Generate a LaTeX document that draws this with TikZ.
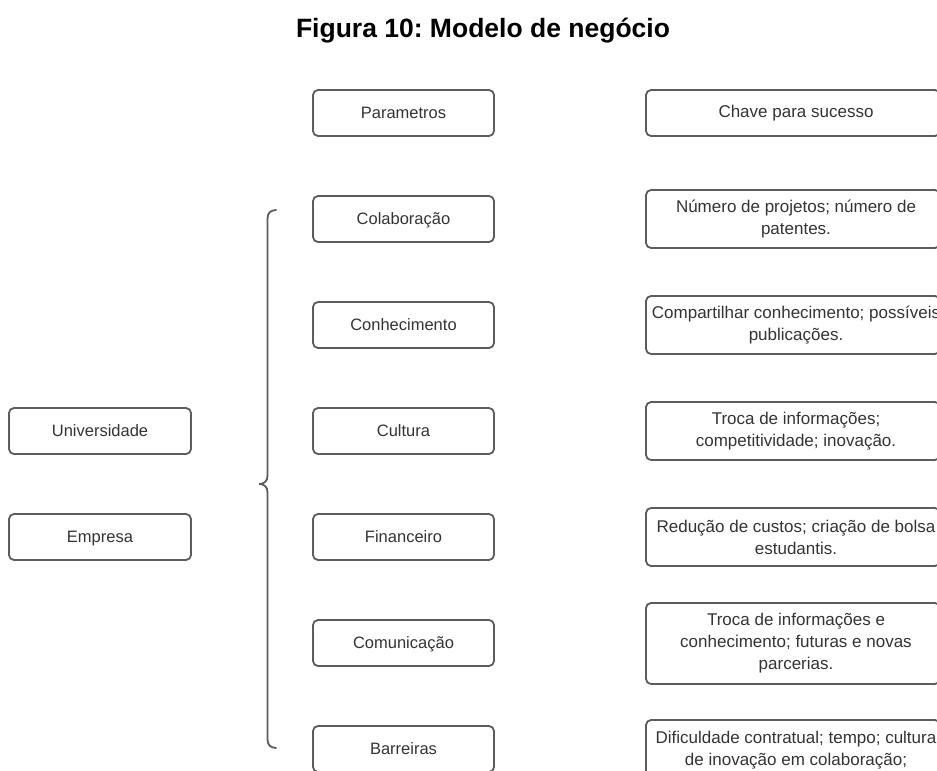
\documentclass[tikz,border=0pt]{standalone}
\usepackage{fontspec}
\setmainfont{Liberation Sans}
\frenchspacing
\definecolor{edge}{HTML}{5C5C5C}
\definecolor{ink}{HTML}{333333}
\begin{document}
\begin{tikzpicture}[x=1pt,y=-1pt,
  box/.style={draw=edge,line width=1.8pt,rounded corners=5pt,inner sep=0pt,
    minimum width=181pt,minimum height=46pt,text=ink,text height=13.5pt,text depth=3.5pt,
    font=\fontsize{16.5}{22}\selectfont},
  rbox/.style={draw=edge,line width=1.8pt,rounded corners=5pt,inner sep=0pt,
    minimum width=294pt},
  rtxt/.style={text=ink,align=center,inner sep=0pt,xshift=3pt,font=\fontsize{17}{22}\selectfont},
  brace/.style={draw=edge,line width=1.8pt,line cap=round,line join=round}]
\useasboundingbox (0,0) rectangle (937,771);

\node[font=\bfseries\fontsize{26.5}{30}\selectfont] (title) at (483,31) {Figura 10: Modelo de negócio};

% left column
\node[box,minimum width=182pt] (univ) at (100,431) {Universidade};
\node[box,minimum width=182pt] (emp) at (100,537) {Empresa};

% middle column: parameters
\node[box] (par) at (403.5,113) {Parametros};
\node[box] (col) at (403.5,219) {Colaboração};
\node[box] (con) at (403.5,325) {Conhecimento};
\node[box] (cul) at (403.5,431) {Cultura};
\node[box] (fin) at (403.5,537) {Financeiro};
\node[box] (com) at (403.5,643) {Comunicação};
\node[box] (bar) at (403.5,749) {Barreiras};

% right column: keys to success
\node[rbox,minimum height=46pt] (k0) at (793,113) {};
\node[rtxt] at (k0) {Chave para sucesso};
\node[rbox,minimum height=58pt] (k1) at (793,219) {};
\node[rtxt] at (k1) {Número de projetos; número de\\patentes.};
\node[rbox,minimum height=58pt] (k2) at (793,325) {};
\node[rtxt] at (k2) {Compartilhar conhecimento; possíveis\\publicações.};
\node[rbox,minimum height=58pt] (k3) at (793,431) {};
\node[rtxt] at (k3) {Troca de informações;\\competitividade; inovação.};
\node[rbox,minimum height=58pt] (k4) at (793,537) {};
\node[rtxt] at (k4) {Redução de custos; criação de bolsa\\estudantis.};
\node[rbox,minimum height=81pt] (k5) at (793,643.5) {};
\node[rtxt] at (k5) {Troca de informações e\\conhecimento; futuras e novas\\parcerias.};
\node[rbox,minimum height=81pt] (k6) at (793,760.5) {};
\node[rtxt,anchor=north] at ([yshift=-12pt]k6.north) {Dificuldade contratual; tempo; cultura\\de inovação em colaboração;};

% curly brace grouping the parameters
\coordinate (btop) at (276,210);
\coordinate (btip) at (259.5,484);
\coordinate (bbot) at (276,748);
\draw[brace] (btop) .. controls (270,210.5) and (267.5,213) .. (267.5,219)
  -- (267.5,476) .. controls (267.5,481) and (264,484) .. (btip)
  .. controls (264,484) and (267.5,487) .. (267.5,492)
  -- (267.5,739) .. controls (267.5,745) and (270,747.5) .. (bbot);
\end{tikzpicture}
\end{document}
